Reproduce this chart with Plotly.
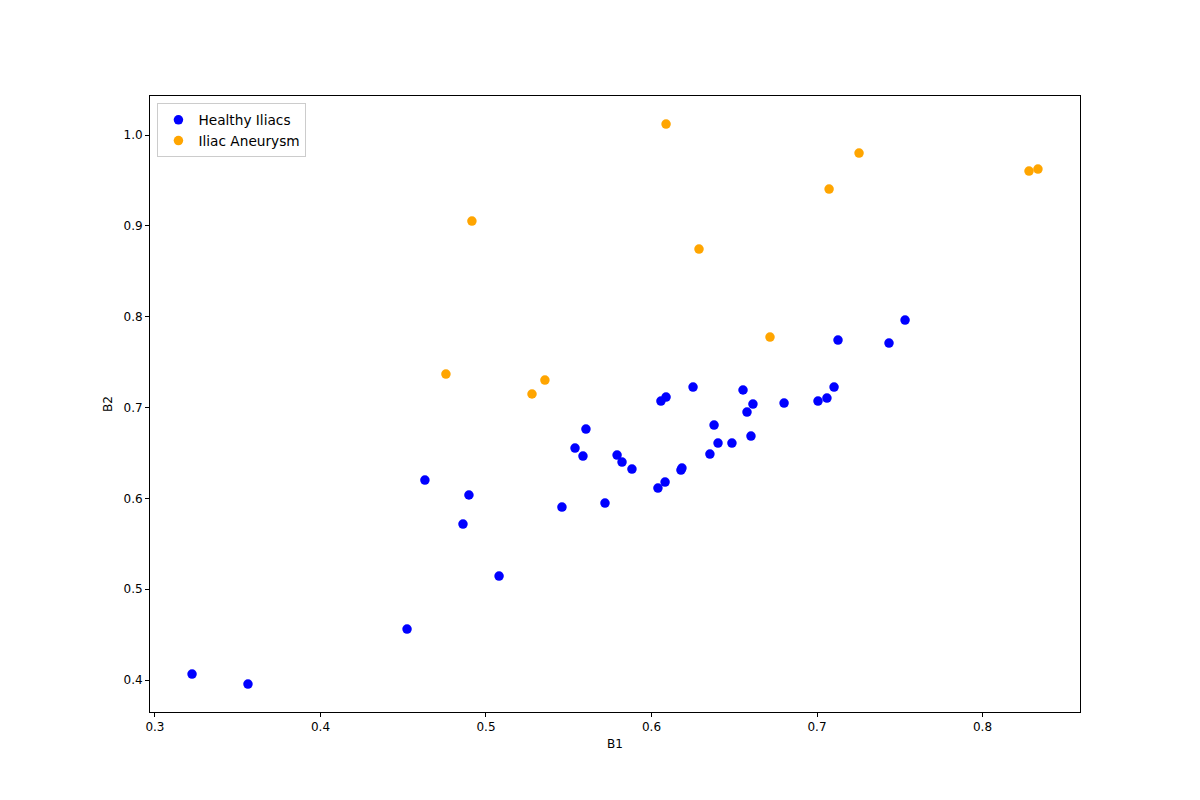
import plotly.graph_objects as go

# Healthy iliacs
healthy_b1 = [0.3224, 0.3562, 0.4523, 0.4631, 0.4897, 0.4861, 0.5079, 0.5459, 0.5538, 0.5586,
              0.5604, 0.5719, 0.5792, 0.5822, 0.5882, 0.6039, 0.6082, 0.6057, 0.6088, 0.6178,
              0.6184, 0.6251, 0.6353, 0.6378, 0.6402, 0.6486, 0.6553, 0.6577, 0.6601, 0.6613,
              0.6801, 0.7006, 0.7060, 0.7103, 0.7127, 0.7435, 0.7532]
healthy_b2 = [0.4066, 0.3956, 0.4561, 0.6202, 0.6037, 0.5717, 0.5145, 0.5904, 0.6554, 0.6466,
              0.6763, 0.5948, 0.6477, 0.6400, 0.6323, 0.6114, 0.6180, 0.7071, 0.7115, 0.6312,
              0.6334, 0.7226, 0.6488, 0.6807, 0.6609, 0.6609, 0.7193, 0.6950, 0.6686, 0.7038,
              0.7049, 0.7071, 0.7104, 0.7226, 0.7743, 0.7710, 0.7963]

# Iliac aneurysm
aneurysm_b1 = [0.4758, 0.4915, 0.5278, 0.5356, 0.6088, 0.6287, 0.6716, 0.7073, 0.7254, 0.8281, 0.8335]
aneurysm_b2 = [0.7369, 0.9053, 0.7149, 0.7303, 1.0121, 0.8745, 0.7776, 0.9405, 0.9802, 0.9604, 0.9626]

fig = go.Figure()
fig.add_trace(go.Scatter(x=healthy_b1, y=healthy_b2, mode='markers', name='Healthy Iliacs',
                         marker=dict(color='blue', size=9.5)))
fig.add_trace(go.Scatter(x=aneurysm_b1, y=aneurysm_b2, mode='markers', name='Iliac Aneurysm',
                         marker=dict(color='orange', size=9.5)))

axis_style = dict(showgrid=False, zeroline=False, showline=True, linecolor='black', linewidth=1,
                  mirror=True, ticks='outside', ticklen=4, tickcolor='black',
                  tickfont=dict(family='DejaVu Sans', size=12, color='black'))

fig.update_xaxes(title=dict(text='B1', font=dict(family='DejaVu Sans', size=12, color='black'), standoff=6),
                 range=[0.297, 0.8589], tickvals=[0.3, 0.4, 0.5, 0.6, 0.7, 0.8], **axis_style)
fig.update_yaxes(title=dict(text='B2', font=dict(family='DejaVu Sans', size=12, color='black'), standoff=8),
                 range=[0.3648, 1.043], tickvals=[0.4, 0.5, 0.6, 0.7, 0.8, 0.9, 1.0],
                 tickformat='.1f', **axis_style)

# page body adds an 8px offset, so margins are shifted to compensate
fig.update_layout(
    width=1200, height=800,
    margin=dict(l=142, r=128, t=88, b=96),
    plot_bgcolor='white', paper_bgcolor='white',
    font=dict(family='DejaVu Sans', size=12, color='black'),
    legend=dict(x=0.008, y=0.988, xanchor='left', yanchor='top',
                bordercolor='#cccccc', borderwidth=1, bgcolor='white',
                font=dict(size=13.7)),
)

fig.write_html("out.html")
